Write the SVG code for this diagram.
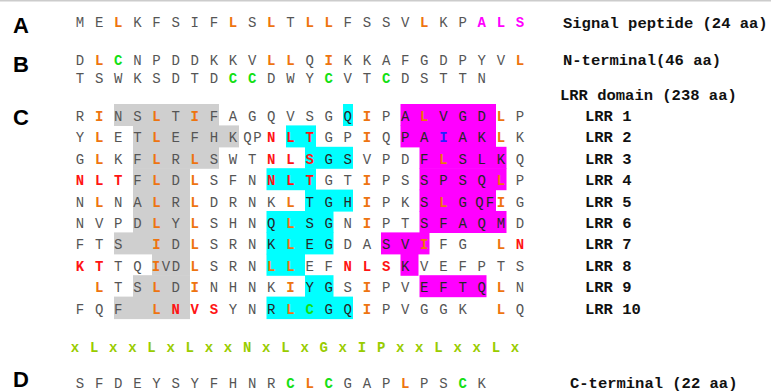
<svg xmlns="http://www.w3.org/2000/svg" width="771" height="392" viewBox="0 0 771 392">
<style>
.s{font-family:"Liberation Mono",monospace;font-size:14px;fill:#555;text-anchor:middle}
.d{fill:#262626}
.o{fill:#ee7410;font-weight:bold}
.r{fill:#ff1414;font-weight:bold}
.g{fill:#14e014;font-weight:bold}
.m{fill:#ff00ff;font-weight:bold}
.b{fill:#2323ff;font-weight:bold}
.mo{font-family:"Liberation Mono",monospace;font-size:14px;font-weight:bold;fill:#99cc00;text-anchor:middle}
.lab{font-family:"Liberation Sans",Arial,sans-serif;font-weight:bold;font-size:22px;fill:#000}
.rl{font-family:"Liberation Mono",monospace;font-weight:bold;font-size:15.5px;fill:#111}
.gy{fill:#cfcfcf}.cy{fill:#00ffff}.mg{fill:#ff00ff}
</style>
<rect width="771" height="392" fill="#fff"/>
<rect x="0" y="0" width="771" height="1.5" fill="#cccccc"/>

<g id="labels">
<text class="lab" x="13" y="33">A</text>
<text class="lab" x="13" y="71.5">B</text>
<text class="lab" x="13" y="125">C</text>
<text class="lab" x="13" y="387">D</text>
</g>

<g id="highlights">
<rect class="gy" x="114" y="104" width="105" height="22"/>
<rect class="gy" x="133" y="125.4" width="106" height="22"/>
<rect class="gy" x="133" y="146.8" width="86" height="22"/>
<rect class="gy" x="133" y="168.2" width="57" height="22"/>
<rect class="gy" x="133" y="189.6" width="57" height="22"/>
<rect class="gy" x="133" y="211" width="57" height="22"/>
<rect class="gy" x="114" y="232.4" width="76" height="22"/>
<rect class="gy" x="152" y="253.8" width="38" height="22"/>
<rect class="gy" x="133" y="275.2" width="57" height="22"/>
<rect class="gy" x="114" y="296.6" width="76" height="22.5"/>

<rect class="cy" x="343" y="104" width="10" height="22"/>
<rect class="cy" x="286" y="125.4" width="30" height="22"/>
<rect class="cy" x="305" y="146.8" width="48" height="22"/>
<rect class="cy" x="266.5" y="168.2" width="49.5" height="22"/>
<rect class="cy" x="305" y="189.6" width="48" height="22"/>
<rect class="cy" x="266.5" y="211" width="67" height="22"/>
<rect class="cy" x="266.5" y="232.4" width="67" height="22"/>
<rect class="cy" x="266.5" y="253.8" width="38.5" height="22"/>
<rect class="cy" x="305" y="275.2" width="28.5" height="22"/>
<rect class="cy" x="266.5" y="296.6" width="86.5" height="22.5"/>

<rect class="mg" x="400.5" y="104" width="95.5" height="22"/>
<rect class="mg" x="400.5" y="125.4" width="95.5" height="22"/>
<rect class="mg" x="419.5" y="146.8" width="87" height="22"/>
<rect class="mg" x="419.5" y="168.2" width="87" height="22"/>
<rect class="mg" x="419.5" y="189.6" width="76.5" height="22"/>
<rect class="mg" x="419.5" y="211" width="87" height="22"/>
<rect class="mg" x="381" y="232.4" width="48.5" height="22"/>
<rect class="mg" x="400.5" y="253.8" width="18" height="22"/>
<rect class="mg" x="419.5" y="275.2" width="67" height="22"/>
</g>

<g id="signal-peptide">
<text class="s" y="27" x="80 99.1 118.3 137.4 156.5 175.7 194.8 213.9 233 252.2 271.3 290.4 309.6 328.7 347.8 366.9 386.1 405.2 424.3 443.5 462.6 481.7 500.9 520">ME<tspan class="o">L</tspan>KFSIF<tspan class="o">L</tspan>S<tspan class="o">L</tspan>T<tspan class="o">LL</tspan>FSSV<tspan class="o">L</tspan>KP<tspan class="m">ALS</tspan></text>
<text class="rl" x="563" y="27.5">Signal peptide (24 aa)</text>
</g>

<g id="n-terminal">
<text class="s" y="65" x="80 99.1 118.3 137.4 156.5 175.7 194.8 213.9 233 252.2 271.3 290.4 309.6 328.7 347.8 366.9 386.1 405.2 424.3 443.5 462.6 481.7 500.9 520">D<tspan class="o">L</tspan><tspan class="g">C</tspan>NPDDKKV<tspan class="o">LL</tspan>Q<tspan class="o">I</tspan>KKAFGDPYV<tspan class="o">L</tspan></text>
<text class="s" y="83" x="80 99.1 118.3 137.4 156.5 175.7 194.8 213.9 233 252.2 271.3 290.4 309.6 328.7 347.8 366.9 386.1 405.2 424.3 443.5 462.6 481.7">TSWKSDTD<tspan class="g">CC</tspan>DWY<tspan class="g">C</tspan>VT<tspan class="g">C</tspan>DSTTN</text>
<text class="rl" x="563" y="65">N-terminal(46 aa)</text>
</g>

<g id="lrr-domain">
<text class="rl" x="560" y="100">LRR domain (238 aa)</text>
<text class="s" y="121" x="80 99.1 118.3 137.4 156.5 175.7 194.8 213.9 233 252.2 271.3 290.4 309.6 328.7 347.8 366.9 386.1 405.2 424.3 443.5 462.6 481.7 500.9 520">R<tspan class="o">I</tspan>NS<tspan class="o">L</tspan>T<tspan class="o">I</tspan>FAGQVSG<tspan class="d">Q</tspan><tspan class="o">I</tspan>P<tspan class="d">A</tspan><tspan class="o">L</tspan><tspan class="d">VGD</tspan><tspan class="o">L</tspan>P</text>
<text class="s" y="142.4" x="80 99.1 118.3 137.4 156.5 175.7 194.8 213.9 233 247.5 257.5 271.3 290.4 309.6 328.7 347.8 366.9 386.1 405.2 424.3 443.5 462.6 481.7 500.9 520">Y<tspan class="o">L</tspan>ET<tspan class="o">L</tspan>EFHKQP<tspan class="r">NLT</tspan>GP<tspan class="o">I</tspan>Q<tspan class="d">PA</tspan><tspan class="b">I</tspan><tspan class="d">AK</tspan><tspan class="o">L</tspan>K</text>
<text class="s" y="163.8" x="80 99.1 118.3 137.4 156.5 175.7 194.8 213.9 233 252.2 271.3 290.4 309.6 328.7 347.8 366.9 386.1 405.2 424.3 443.5 462.6 481.7 500.9 520">G<tspan class="o">L</tspan>KF<tspan class="o">L</tspan>R<tspan class="o">L</tspan>SWT<tspan class="r">NLS</tspan><tspan class="d">GS</tspan>VPD<tspan class="d">F</tspan><tspan class="o">L</tspan><tspan class="d">SLK</tspan>Q</text>
<text class="s" y="185.2" x="80 99.1 118.3 137.4 156.5 175.7 194.8 213.9 233 252.2 271.3 290.4 309.6 328.7 347.8 366.9 386.1 405.2 424.3 443.5 462.6 481.7 500.9 520"><tspan class="r">NLT</tspan>F<tspan class="o">L</tspan>D<tspan class="o">L</tspan>SFN<tspan class="r">NLT</tspan>GT<tspan class="o">I</tspan>PS<tspan class="d">SPSQ</tspan><tspan class="o">L</tspan>P</text>
<text class="s" y="206.6" x="80 99.1 118.3 137.4 156.5 175.7 194.8 213.9 233 252.2 271.3 290.4 309.6 328.7 347.8 366.9 386.1 405.2 424.3 443.5 462.6 479.5 490 500.9 520">N<tspan class="o">L</tspan>NA<tspan class="o">L</tspan>R<tspan class="o">L</tspan>DRNK<tspan class="o">L</tspan><tspan class="d">TGH</tspan><tspan class="o">I</tspan>PK<tspan class="d">S</tspan><tspan class="o">L</tspan><tspan class="d">GQF</tspan><tspan class="o">I</tspan>G</text>
<text class="s" y="228" x="80 99.1 118.3 137.4 156.5 175.7 194.8 213.9 233 252.2 271.3 290.4 309.6 328.7 347.8 366.9 386.1 405.2 424.3 443.5 462.6 481.7 500.9 520">NVPD<tspan class="o">L</tspan>Y<tspan class="o">L</tspan>SHN<tspan class="d">Q</tspan><tspan class="o">L</tspan><tspan class="d">SG</tspan>N<tspan class="o">I</tspan>PT<tspan class="d">SFAQM</tspan>D</text>
<text class="s" y="249.4" x="80 99.1 118.3 156.5 175.7 194.8 213.9 233 252.2 271.3 290.4 309.6 328.7 347.8 366.9 386.1 405.2 424.3 443.5 462.6 500.9 520">FTS<tspan class="o">I</tspan>D<tspan class="o">L</tspan>SRN<tspan class="d">K</tspan><tspan class="o">L</tspan><tspan class="d">EG</tspan>DA<tspan class="d">SV</tspan><tspan class="o">I</tspan>FG<tspan class="o">L</tspan><tspan class="r">N</tspan></text>
<text class="s" y="270.8" x="80 99.1 118.3 137.4 156 166 176 194.8 213.9 233 252.2 271.3 290.4 309.6 328.7 347.8 366.9 386.1 405.2 424.3 443.5 462.6 481.7 500.9 520"><tspan class="r">KT</tspan>TQ<tspan class="o">I</tspan>VD<tspan class="o">L</tspan>SRN<tspan class="o">LL</tspan>EF<tspan class="r">NLS</tspan><tspan class="d">K</tspan>VEFPTS</text>
<text class="s" y="292.2" x="99.1 118.3 137.4 156.5 175.7 194.8 213.9 233 252.2 271.3 290.4 309.6 328.7 347.8 366.9 386.1 405.2 424.3 443.5 462.6 481.7 500.9 520"><tspan class="o">L</tspan>TS<tspan class="o">L</tspan>D<tspan class="o">I</tspan>NHNK<tspan class="o">I</tspan><tspan class="d">YG</tspan>S<tspan class="o">I</tspan>PV<tspan class="d">EFTQ</tspan><tspan class="o">L</tspan>N</text>
<text class="s" y="313.6" x="80 99.1 118.3 156.5 175.7 194.8 213.9 233 252.2 271.3 290.4 309.6 328.7 347.8 366.9 386.1 405.2 424.3 443.5 462.6 500.9 520">FQF<tspan class="o">L</tspan><tspan class="r">NVS</tspan>YN<tspan class="d">R</tspan><tspan class="o">L</tspan><tspan class="g">C</tspan><tspan class="d">GQ</tspan><tspan class="o">I</tspan>PVGGK<tspan class="o">L</tspan>Q</text>
<text class="rl" x="585" y="121">LRR 1</text>
<text class="rl" x="585" y="142.4">LRR 2</text>
<text class="rl" x="585" y="163.8">LRR 3</text>
<text class="rl" x="585" y="185.2">LRR 4</text>
<text class="rl" x="585" y="206.6">LRR 5</text>
<text class="rl" x="585" y="228">LRR 6</text>
<text class="rl" x="585" y="249.4">LRR 7</text>
<text class="rl" x="585" y="270.8">LRR 8</text>
<text class="rl" x="585" y="292.2">LRR 9</text>
<text class="rl" x="585" y="313.6">LRR 10</text>
</g>

<g id="motif">
<text class="mo" y="351.5" x="75 94.1 113.3 132.4 151.5 170.7 189.8 208.9 228 247.2 266.3 285.4 304.6 323.7 342.8 361.9 381.1 400.2 419.3 438.5 457.6 476.7 495.9 515">xLxxLxLxxNxLxGxIPxxLxxLx</text>
</g>

<g id="c-terminal">
<text class="s" y="388" x="80 99.1 118.3 137.4 156.5 175.7 194.8 213.9 233 252.2 271.3 290.4 309.6 328.7 347.8 366.9 386.1 405.2 424.3 443.5 462.6 481.7">SFDEYSYFHNR<tspan class="g">C</tspan><tspan class="o">L</tspan><tspan class="g">C</tspan>GAP<tspan class="o">L</tspan>PS<tspan class="g">C</tspan>K</text>
<text class="rl" x="570" y="388">C-terminal (22 aa)</text>
</g>
</svg>
